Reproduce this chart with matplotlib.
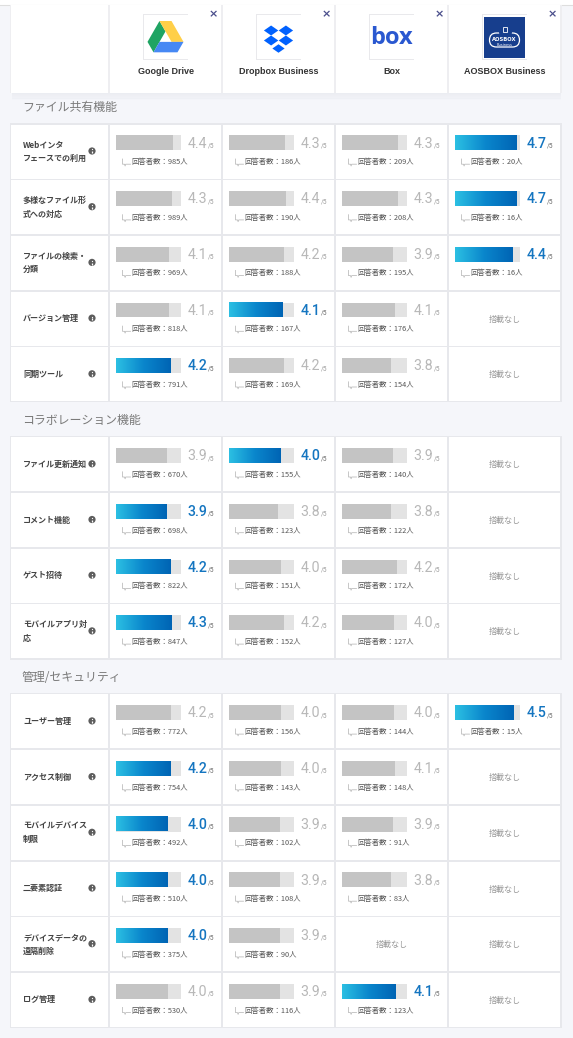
import matplotlib
matplotlib.use("Agg")
import matplotlib.pyplot as plt
import numpy as np
from matplotlib.patches import Rectangle, Polygon, Circle, FancyBboxPatch
from matplotlib.colors import LinearSegmentedColormap

plt.rcParams['font.family'] = ['Noto Sans CJK JP', 'DejaVu Sans']

# ---------------- data ----------------
services = ["Google Drive", "Dropbox Business", "Box", "AOSBOX Business"]
sections = ["ファイル共有機能", "コラボレーション機能", "管理/セキュリティ"]

features_1 = ["Webインタ\nフェースでの利用", "多様なファイル形\n式への対応", "ファイルの検索・\n分類", "バージョン管理", "同期ツール"]
scores_1 = [[4.4, 4.3, 4.3, 4.7], [4.3, 4.4, 4.3, 4.7], [4.1, 4.2, 3.9, 4.4],
            [4.1, 4.1, 4.1, None], [4.2, 4.2, 3.8, None]]
counts_1 = [[985, 186, 209, 20], [989, 190, 208, 16], [969, 188, 195, 16],
            [818, 167, 176, None], [791, 169, 154, None]]
best_1 = [3, 3, 3, 1, 0]

features_2 = ["ファイル更新通知", "コメント機能", "ゲスト招待", "モバイルアプリ対\n応"]
scores_2 = [[3.9, 4.0, 3.9, None], [3.9, 3.8, 3.8, None], [4.2, 4.0, 4.2, None], [4.3, 4.2, 4.0, None]]
counts_2 = [[670, 155, 140, None], [698, 123, 122, None], [822, 151, 172, None], [847, 152, 127, None]]
best_2 = [1, 0, 0, 0]

features_3 = ["ユーザー管理", "アクセス制御", "モバイルデバイス\n制限", "二要素認証", "デバイスデータの\n遠隔削除", "ログ管理"]
scores_3 = [[4.2, 4.0, 4.0, 4.5], [4.2, 4.0, 4.1, None], [4.0, 3.9, 3.9, None],
            [4.0, 3.9, 3.8, None], [4.0, 3.9, None, None], [4.0, 3.9, 4.1, None]]
counts_3 = [[772, 156, 144, 15], [754, 143, 148, None], [492, 102, 91, None],
            [510, 108, 83, None], [375, 90, None, None], [530, 116, 123, None]]
best_3 = [3, 0, 0, 0, 0, 2]

max_score = 5
na_text = "搭載なし"

# ---------------- styling / layout ----------------
W, H = 573, 1038
BG = "#f5f6fa"
GRID = "#e7e8ec"
fig = plt.figure(figsize=(W / 100, H / 100), dpi=100)
fig.patch.set_facecolor(BG)
ax = fig.add_axes([0, 0, 1, 1])
ax.set_xlim(0, W)
ax.set_ylim(H, 0)
ax.axis("off")

label_x0, label_w = 11, 97
col_x0 = [110, 223, 336, 449]
col_w = 111
row_h, pitch = 54, 55.7
track_off, track_w = 6, 65
bar_h = 14.8

cmap = LinearSegmentedColormap.from_list("g", ["#2cc0e3", "#0a86cc", "#0064b4"])
grad = np.linspace(0, 1, 256).reshape(1, -1)

# top strip
ax.add_patch(Rectangle((0, 0), W, 4.5, color="white", zorder=0))
ax.plot([0, W], [4.5, 4.5], color="#dedede", lw=0.8, zorder=1)

# ---------------- header ----------------
hy0, hy1 = 5, 93
for k in range(8):
    ax.add_patch(Rectangle((label_x0 + 1, hy1 + k * 0.9), 549, 1.0, color="#9aa0b0",
                           alpha=0.10 * (1 - k / 8), lw=0, zorder=1))
ax.add_patch(Rectangle((label_x0 - 1, hy0), 552, hy1 - hy0, color="#eeeef1", lw=0, zorder=2))
ax.add_patch(Rectangle((label_x0, hy0), label_w, hy1 - hy0, color="white", lw=0, zorder=3))
for i, name in enumerate(services):
    x0 = col_x0[i]
    cx = x0 + col_w / 2
    ax.add_patch(Rectangle((x0, hy0), col_w, hy1 - hy0, color="white", lw=0, zorder=3))
    ax.text(cx, 72, name, ha="center", va="center", fontsize=6.5, fontweight="bold",
            color="#333333", family=["Liberation Sans", "DejaVu Sans"], zorder=5)
    ax.text(x0 + col_w - 8, 14.5, "×", ha="center", va="center", fontsize=8,
            fontweight="bold", color="#4b4f8c", family="DejaVu Sans", zorder=5)
    # logo frame
    lx, ly, ls = cx - 22, 15, 44
    ax.add_patch(Rectangle((lx - 0.6, ly - 0.6), ls + 1.2, ls + 1.2, color="#e9e9ec", lw=0, zorder=4))
    ax.add_patch(Rectangle((lx, ly), ls, ls, color="white", lw=0, zorder=4))
    if i == 0:
        s, ox, oy = 36, cx - 18, 21
        def P(pts):
            return [(ox + px * s, oy + py * s) for px, py in pts]
        ax.add_patch(Polygon(P([(0.333, 0.0), (0.5, 0.29), (0.167, 0.87), (0.0, 0.58)]), color="#1fa463", lw=0, zorder=5))
        ax.add_patch(Polygon(P([(0.333, 0.0), (0.667, 0.0), (1.0, 0.58), (0.667, 0.58)]), color="#ffcf48", lw=0, zorder=5))
        ax.add_patch(Polygon(P([(0.167, 0.87), (0.833, 0.87), (1.0, 0.58), (0.333, 0.58)]), color="#4688f4", lw=0, zorder=5))
    elif i == 1:
        cy = ly + ls / 2
        dw, dh = 7.2, 5.0
        for dx, dy, sc in [(-7.4, -6.5, 1), (7.4, -6.5, 1), (-7.4, 3.5, 1), (7.4, 3.5, 1), (0, 11.5, 0.85)]:
            ccx, ccy = cx + dx, cy + dy
            ax.add_patch(Polygon([(ccx - dw * sc, ccy), (ccx, ccy - dh * sc), (ccx + dw * sc, ccy), (ccx, ccy + dh * sc)],
                                 color="#0061fe", lw=0, zorder=5))
    elif i == 2:
        ax.text(cx, ly + ls / 2 + 0.5, "box", ha="center", va="center", fontsize=17, fontweight="bold",
                color="#2a58d0", family=["Open Sans", "DejaVu Sans"], zorder=5)
    else:
        ax.add_patch(Rectangle((lx + 1.5, ly + 1.5), ls - 3, ls - 3, color="#173e8d", lw=0, zorder=5))
        cyc = ly + 25
        ax.add_patch(FancyBboxPatch((cx - 15, cyc - 7), 30, 14, boxstyle="round,pad=0,rounding_size=7",
                                    fc="none", ec="white", lw=0.9, zorder=6))
        ax.add_patch(Circle((cx + 1, cyc - 8), 6.5, fc="#173e8d", ec="none", zorder=6))
        ax.add_patch(Rectangle((cx - 1.5, cyc - 13), 4, 4.5, fc="#173e8d", ec="white", lw=0.6, zorder=7))
        ax.text(cx, cyc - 0.5, "AOSBOX", ha="center", va="center", fontsize=3.8, fontweight="bold",
                color="white", family="DejaVu Sans", zorder=7)
        ax.text(cx, cyc + 4.5, "Business", ha="center", va="center", fontsize=2.6,
                color="white", family="DejaVu Sans", zorder=7)

# ---------------- table sections ----------------
all_sections = [(features_1, scores_1, counts_1, best_1),
                (features_2, scores_2, counts_2, best_2),
                (features_3, scores_3, counts_3, best_3)]

JP = ["Noto Sans CJK JP", "DejaVu Sans"]
NUM = ["Roboto", "DejaVu Sans"]

title_y = 108
for s_idx, (feats, scs, cnts, best) in enumerate(all_sections):
    ax.text(22, title_y, sections[s_idx], ha="left", va="center", fontsize=8.6,
            color="#7a7a7a", family=JP)
    top0 = title_y + 16.5
    n = len(feats)
    tbl_bottom = top0 + (n - 1) * pitch + row_h
    ax.add_patch(Rectangle((label_x0 - 1.2, top0 - 1.2), 552.4, tbl_bottom - top0 + 2.4,
                           color=GRID, lw=0, zorder=1))
    for r in range(n):
        rt = top0 + r * pitch
        rc = rt + row_h / 2
        ax.add_patch(Rectangle((label_x0, rt), label_w, row_h, color="white", lw=0, zorder=2))
        lines = feats[r].split("\n")
        offs = [0] if len(lines) == 1 else [-6.8, 6.8]
        for ln, off in zip(lines, offs):
            ax.text(23, rc + off, ln, ha="left", va="center", fontsize=5.8, fontweight="bold",
                    color="#444444", family=JP, zorder=4)
        ax.add_patch(Circle((92, rc - 0.5), 3.6, color="#5d5d5d", lw=0, zorder=4))
        ax.plot([92, 92], [rc - 0.2, rc + 1.8], color="white", lw=0.9, solid_capstyle="butt", zorder=5)
        ax.plot([92], [rc - 2.1], marker="o", ms=0.9, color="white", mew=0, zorder=5)
        for c in range(4):
            x0 = col_x0[c]
            ax.add_patch(Rectangle((x0, rt), col_w, row_h, color="white", lw=0, zorder=2))
            v = scs[r][c]
            if v is None:
                ax.text(x0 + col_w / 2, rc + 0.5, na_text, ha="center", va="center", fontsize=5.8,
                        color="#9a9a9a", family=JP, zorder=4)
                continue
            bx = x0 + track_off
            by = rt + 18.3
            ax.barh(by, track_w, left=bx, height=bar_h, color="#e3e3e3", zorder=3)
            L = v / max_score * track_w
            hi = (c == best[r])
            if hi:
                ax.imshow(grad, cmap=cmap, aspect="auto", interpolation="bicubic",
                          extent=[bx, bx + L, by + bar_h / 2, by - bar_h / 2], zorder=4)
                ncol, nw = "#1475c0", "medium"
            else:
                ax.barh(by, L, left=bx, height=bar_h, color="#c4c4c4", zorder=4)
                ncol, nw = "#b8b8b8", "normal"
            ax.text(x0 + 97.3, rt + 19.0, f"{v:.1f}", ha="right", va="center", fontsize=10.2,
                    color=ncol, fontweight=nw, family=NUM, zorder=5)
            ax.text(x0 + 97.6, rt + 21.3, "/5", ha="left", va="center", fontsize=4.8,
                    color="#666666" if hi else "#9a9a9a", family=NUM, zorder=5)
            # speech bubble icon
            bbx, bby = x0 + 12.5, rt + 34.5
            ax.plot([bbx, bbx, bbx + 2, bbx + 2.6, bbx + 3.2, bbx + 8],
                    [bby, bby + 5.2, bby + 5.2, bby + 7, bby + 5.2, bby + 5.2],
                    color="#b8b8b8", lw=0.55, zorder=5)
            ax.text(x0 + 21.5, rt + 37.6, f"回答者数：{cnts[r][c]}人", ha="left", va="center",
                    fontsize=5.3, color="#555555", family=JP, zorder=5)
    title_y = tbl_bottom + 19.5

ax.set_xlim(0, W)
ax.set_ylim(H, 0)
fig.savefig("out.png", dpi=100, facecolor=fig.get_facecolor())
